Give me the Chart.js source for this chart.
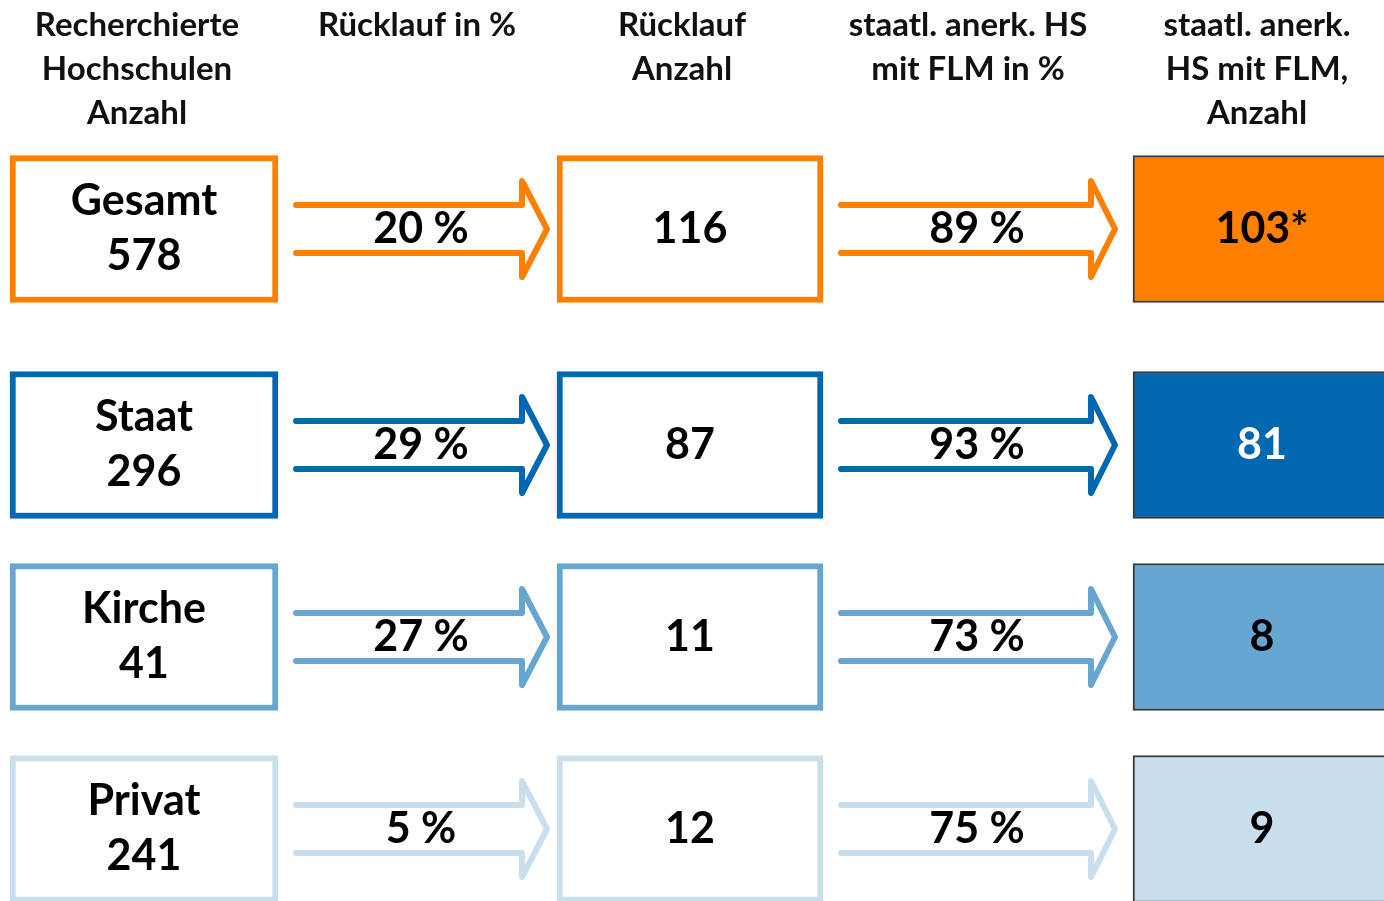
<!DOCTYPE html>
<html lang="de">
<head>
<meta charset="utf-8">
<title>Rücklauf Hochschulen</title>
<script src="https://cdn.jsdelivr.net/npm/chart.js@4"></script>
<style>
  html, body { margin: 0; padding: 0; background: #ffffff; overflow: hidden; }
  #wrap { width: 1384px; height: 901px; position: relative; }
</style>
</head>
<body>
<div id="wrap"><canvas id="flow-chart"></canvas></div>
<script>
// Werte je Träger
const categories = ["Gesamt", "Staat", "Kirche", "Privat"];
const researched = [578, 296, 41, 241];
const responseRate = [20, 29, 27, 5];
const responses = [116, 87, 11, 12];
const flmRate = [89, 93, 73, 75];
const flmCount = [103, 81, 8, 9];
const flmNote = ["*", "", "", ""];

const headers = [
  ["Recherchierte", "Hochschulen", "Anzahl"],
  ["Rücklauf in %"],
  ["Rücklauf", "Anzahl"],
  ["staatl. anerk. HS", "mit FLM in %"],
  ["staatl. anerk.", "HS mit FLM,", "Anzahl"]
];

// Farben je Zeile
const rowColors = ["#ff7f00", "#0067b1", "#67a6d1", "#cadfee"];
const rowTextColors = ["#000000", "#ffffff", "#000000", "#000000"];

// Layout in Pixeln (x- und y-Skala laufen 0..1384 / 0..901)
const W = 1384;
const H = 901;
const rowCenters = [229, 445, 637, 829];
const boxHeight = 147;
const leftBox = [10, 278];
const midBox = [557, 823];
const rightBox = [1133, 1420];
const arrows = [
  { start: 296, head: 522, tip: 547, label: 421 },
  { start: 841, head: 1091, tip: 1115, label: 977 }
];
const headerCenters = [137, 417, 682, 968, 1257];
const headerTop = 25;
const headerLine = 44;

const FONT = "Lato, 'Open Sans', sans-serif";

function boxData(span) {
  return rowCenters.map(function (yc) {
    return { x: [span[0], span[1]], y: yc };
  });
}

const flowPlugin = {
  id: "flowPlugin",
  afterDatasetsDraw(chart) {
    const ctx = chart.ctx;
    const xs = chart.scales.x;
    const ys = chart.scales.y;
    const px = (v) => xs.getPixelForValue(v);
    const py = (v) => ys.getPixelForValue(v);

    ctx.save();
    ctx.textAlign = "center";
    ctx.textBaseline = "middle";

    // Spaltenköpfe
    ctx.fillStyle = "#111111";
    ctx.font = "bold 33px " + FONT;
    headers.forEach(function (lines, c) {
      lines.forEach(function (line, i) {
        ctx.fillText(line, px(headerCenters[c]), py(headerTop + i * headerLine));
      });
    });

    rowCenters.forEach(function (yc, r) {
      // Pfeile
      ctx.strokeStyle = rowColors[r];
      ctx.lineWidth = 6;
      ctx.lineJoin = "round";
      ctx.lineCap = "round";
      arrows.forEach(function (a) {
        ctx.beginPath();
        ctx.moveTo(px(a.start), py(yc - 24));
        ctx.lineTo(px(a.head), py(yc - 24));
        ctx.lineTo(px(a.head), py(yc - 48));
        ctx.lineTo(px(a.tip), py(yc));
        ctx.lineTo(px(a.head), py(yc + 48));
        ctx.lineTo(px(a.head), py(yc + 24));
        ctx.lineTo(px(a.start), py(yc + 24));
        ctx.stroke();
      });

      ctx.fillStyle = "#000000";
      ctx.font = "bold 43px " + FONT;
      const lx = (leftBox[0] + leftBox[1]) / 2;
      ctx.fillText(categories[r], px(lx), py(yc - 28));
      ctx.fillText(String(researched[r]), px(lx), py(yc + 27));
      ctx.fillText(responseRate[r] + " %", px(arrows[0].label), py(yc));
      ctx.fillText(String(responses[r]), px((midBox[0] + midBox[1]) / 2), py(yc));
      ctx.fillText(flmRate[r] + " %", px(arrows[1].label), py(yc));

      ctx.fillStyle = rowTextColors[r];
      ctx.fillText(flmCount[r] + flmNote[r], px(1262), py(yc));
    });
    ctx.restore();
  }
};

const canvas = document.getElementById("flow-chart");
const chart = new Chart(canvas.getContext("2d"), {
  type: "bar",
  data: {
    datasets: [
      {
        label: "Recherchierte Hochschulen",
        data: boxData(leftBox),
        backgroundColor: "#ffffff",
        borderColor: rowColors,
        borderWidth: 6
      },
      {
        label: "Rücklauf",
        data: boxData(midBox),
        backgroundColor: "#ffffff",
        borderColor: rowColors,
        borderWidth: 6
      },
      {
        label: "HS mit FLM",
        data: boxData(rightBox),
        backgroundColor: rowColors,
        borderColor: "#3a3a3a",
        borderWidth: 2
      }
    ]
  },
  options: {
    indexAxis: "y",
    responsive: true,
    maintainAspectRatio: false,
    animation: false,
    events: [],
    layout: { padding: 0 },
    datasets: {
      bar: {
        grouped: false,
        barThickness: boxHeight,
        borderSkipped: false
      }
    },
    scales: {
      x: { type: "linear", min: 0, max: W, offset: false, display: false },
      y: { type: "linear", min: 0, max: H, reverse: true, offset: false, display: false }
    },
    plugins: {
      legend: { display: false },
      tooltip: { enabled: false }
    }
  },
  plugins: [flowPlugin]
});
</script>
</body>
</html>
